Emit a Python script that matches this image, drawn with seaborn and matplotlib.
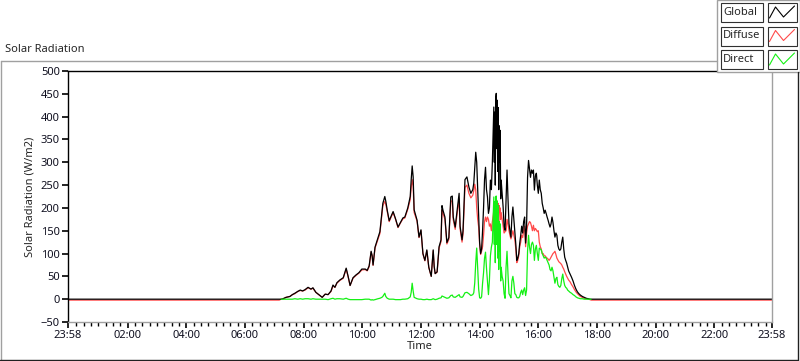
import matplotlib
matplotlib.use("Agg")
import matplotlib.pyplot as plt
from matplotlib.patches import Rectangle
import seaborn as sns
import pandas as pd

# Datos de radiacion solar (W/m2)
day_times = [
    "07:14", "07:18", "07:24", "07:32", "07:37", "07:42", "07:48", "07:53", "07:58", "08:03",
    "08:09", "08:15", "08:19", "08:25", "08:31", "08:38", "08:44", "08:50", "08:56", "09:00",
    "09:04", "09:08", "09:14", "09:21", "09:27", "09:31", "09:35", "09:41", "09:47", "09:53",
    "09:59", "10:06", "10:10", "10:14", "10:18", "10:20", "10:22", "10:26", "10:32", "10:36",
    "10:40", "10:42", "10:46", "10:48", "10:51", "10:55", "10:59", "11:03", "11:08", "11:13",
    "11:18", "11:23", "11:27", "11:33", "11:38", "11:40", "11:42", "11:44", "11:46", "11:52",
    "11:56", "12:00", "12:04", "12:08", "12:12", "12:16", "12:21", "12:25", "12:27", "12:29",
    "12:33", "12:37", "12:41", "12:43", "12:45", "12:49", "12:53", "12:57", "13:01", "13:04",
    "13:06", "13:10", "13:14", "13:18", "13:20", "13:24", "13:26", "13:30", "13:34", "13:38",
    "13:42", "13:46", "13:48", "13:50", "13:52", "13:54", "13:56", "13:58", "14:00", "14:02",
    "14:04", "14:06", "14:08", "14:10", "14:12", "14:14", "14:16", "14:18", "14:20", "14:22",
    "14:24", "14:26", "14:28", "14:29", "14:30", "14:31", "14:32", "14:33", "14:34", "14:35",
    "14:36", "14:37", "14:38", "14:39", "14:40", "14:41", "14:42", "14:43", "14:44", "14:46",
    "14:48", "14:50", "14:52", "14:54", "14:56", "14:58", "15:00", "15:02", "15:04", "15:06",
    "15:08", "15:10", "15:12", "15:14", "15:16", "15:18", "15:20", "15:22", "15:24", "15:26",
    "15:28", "15:30", "15:32", "15:34", "15:36", "15:38", "15:40", "15:42", "15:44", "15:46",
    "15:48", "15:50", "15:52", "15:54", "15:56", "15:58", "16:00", "16:02", "16:04", "16:06",
    "16:08", "16:10", "16:12", "16:14", "16:16", "16:18", "16:20", "16:22", "16:24", "16:26",
    "16:28", "16:30", "16:32", "16:34", "16:36", "16:38", "16:40", "16:42", "16:44", "16:46",
    "16:48", "16:50", "16:52", "16:54", "16:56", "16:58", "17:00", "17:02", "17:05", "17:08",
    "17:11", "17:14", "17:17", "17:20", "17:23", "17:26", "17:30", "17:34", "17:38", "17:42",
    "17:46", "17:48",
]
global_wm2 = [
    0, 1, 4, 6, 10, 13, 17, 20, 18, 21,
    26, 22, 25, 15, 10, 4, 11, 10, 18, 31,
    26, 36, 42, 47, 68, 50, 30, 47, 53, 58,
    66, 66, 63, 73, 105, 96, 75, 114, 134, 148,
    190, 210, 225, 215, 195, 172, 182, 192, 176, 158,
    168, 178, 180, 200, 225, 262, 292, 268, 196, 173,
    136, 152, 100, 85, 108, 70, 50, 108, 72, 56,
    60, 115, 130, 205, 195, 180, 124, 135, 224, 226,
    180, 158, 196, 232, 160, 130, 150, 262, 268, 246,
    232, 240, 254, 290, 322, 300, 239, 180, 123, 100,
    110, 150, 200, 262, 289, 240, 224, 188, 200, 261,
    240, 300, 380, 421, 300, 410, 250, 440, 451, 330,
    436, 280, 420, 240, 380, 300, 370, 220, 261, 230,
    202, 160, 151, 220, 283, 220, 166, 150, 136, 180,
    202, 175, 145, 120, 85, 90, 100, 123, 140, 160,
    145, 170, 180, 123, 160, 267, 304, 285, 267, 283,
    276, 283, 239, 270, 276, 250, 232, 261, 240, 232,
    210, 200, 188, 195, 188, 180, 173, 165, 158, 165,
    180, 168, 150, 136, 145, 140, 118, 110, 107, 110,
    125, 136, 110, 92, 85, 79, 70, 62, 55, 48,
    40, 30, 22, 16, 12, 9, 6, 4, 2, 1,
    0, 0,
]
diffuse_wm2 = [
    0, 1, 4, 6, 10, 12, 17, 19, 18, 20,
    25, 22, 24, 15, 10, 4, 11, 10, 17, 29,
    26, 35, 41, 46, 66, 49, 30, 46, 52, 57,
    64, 65, 62, 71, 103, 95, 74, 112, 131, 144,
    185, 205, 214, 208, 192, 170, 180, 190, 175, 157,
    167, 176, 178, 197, 218, 245, 262, 248, 190, 171,
    135, 150, 99, 84, 106, 69, 50, 106, 71, 56,
    59, 112, 126, 196, 188, 175, 121, 131, 214, 216,
    174, 153, 188, 220, 154, 125, 143, 245, 250, 232,
    222, 228, 238, 252, 240, 200, 175, 158, 120, 98,
    105, 115, 140, 170, 180, 170, 180, 175, 160, 165,
    150, 170, 185, 195, 175, 190, 165, 210, 225, 205,
    215, 180, 210, 170, 205, 190, 200, 175, 190, 175,
    160, 145, 148, 150, 175, 165, 150, 140, 132, 140,
    150, 140, 130, 110, 80, 85, 95, 115, 125, 140,
    135, 150, 160, 115, 145, 160, 165, 170, 168, 160,
    150, 162, 150, 155, 152, 148, 150, 125, 115, 110,
    100, 100, 95, 95, 92, 90, 88, 85, 88, 92,
    96, 100, 102, 105, 98, 90, 86, 82, 80, 78,
    75, 70, 66, 60, 55, 50, 46, 42, 38, 32,
    27, 21, 16, 12, 9, 6, 4, 2, 1, 0,
    -1, -2,
]
direct_wm2 = [
    0, 0, 0, 0, 0, 1, 0, 1, 0, 1,
    1, 0, 1, 0, 0, 0, 0, -1, 1, 2,
    0, 1, 1, 0, 2, 0, -1, -1, -1, -1,
    -1, 0, 0, 0, -2, -1, -2, -1, 1, 2,
    4, 6, 13, 6, 2, 0, 0, 0, -1, -1,
    -1, 0, 0, 1, 5, 15, 35, 18, 4, 1,
    0, 0, -1, -1, 0, -1, -1, 1, 0, -1,
    0, 2, 3, 7, 6, 4, 2, 3, 8, 9,
    5, 4, 7, 10, 5, 4, 6, 14, 15, 12,
    8, 10, 14, 36, 80, 112, 66, 22, 3, 2,
    5, 35, 58, 90, 103, 68, 40, 10, 42, 95,
    114, 125, 190, 224, 120, 214, 80, 225, 226, 120,
    215, 90, 205, 65, 170, 105, 165, 40, 70, 50,
    40, 12, 2, 70, 105, 55, 12, 8, 3, 40,
    50, 35, 12, 10, 4, 3, 3, 6, 15, 20,
    10, 20, 25, 8, 20, 105, 140, 114, 100, 120,
    125, 118, 85, 110, 118, 100, 85, 112, 110, 108,
    100, 95, 90, 92, 90, 85, 80, 75, 65, 62,
    70, 62, 48, 35, 45, 48, 32, 28, 26, 30,
    45, 55, 40, 30, 26, 24, 20, 18, 15, 13,
    10, 8, 5, 3, 2, 1, 1, 0, 0, 0,
    0, 0,
]

# Noche: global en cero, difusa apenas negativa
night_times = ["23:58", "07:10", "17:52", "23:58"]
night_global = [0, 0, 0, 0]
night_diffuse = [-2, -2, -2, -2]

tick_hours = [2, 4, 6, 8, 10, 12, 14, 16, 18, 20, 22]
tick_labels = ["02:00", "04:00", "06:00", "08:00", "10:00", "12:00",
               "14:00", "16:00", "18:00", "20:00", "22:00"]
serie_nombres = ["Diffuse", "Global", "Direct"]
serie_colores = {"Global": "black", "Diffuse": "#ff4a4a", "Direct": "#14f014"}


def a_horas(t):
    h, m = t.split(":")
    return int(h) + int(m) / 60


inicio = a_horas("23:58") - 24
fin = a_horas("23:58")

night_h = [inicio] + [a_horas(t) for t in night_times[1:-1]] + [fin]
day_h = [a_horas(t) for t in day_times]

filas = []
for h, v in zip(night_h[:2] + day_h + night_h[2:], night_global[:2] + global_wm2 + night_global[2:]):
    filas.append({"hora": h, "valor": v, "serie": "Global"})
for h, v in zip(night_h[:2] + day_h + night_h[2:], night_diffuse[:2] + diffuse_wm2 + night_diffuse[2:]):
    filas.append({"hora": h, "valor": v, "serie": "Diffuse"})
for h, v in zip(day_h, direct_wm2):
    filas.append({"hora": h, "valor": v, "serie": "Direct"})
df = pd.DataFrame(filas)

sns.set_style("white")
plt.rcParams["font.family"] = ["Noto Sans", "DejaVu Sans"]

fig = plt.figure(figsize=(8, 3.61), dpi=100)
ax = fig.add_axes([68 / 800, (361 - 322) / 361, (772 - 68) / 800, (322 - 71) / 361])

sns.lineplot(data=df, x="hora", y="valor", hue="serie", hue_order=serie_nombres,
             palette=serie_colores, estimator=None, sort=True, legend=False,
             linewidth=0.9, ax=ax)

ax.set_xlim(inicio, fin)
ax.set_ylim(-50, 500)
ax.set_yticks(range(-50, 501, 50))
ax.set_xticks([inicio] + tick_hours + [fin])
ax.set_xticklabels(["23:58"] + tick_labels + ["23:58"])
ax.set_xticks([i * 0.25 for i in range(1, 96) if i % 8 != 0], minor=True)
ax.tick_params(axis="both", which="major", direction="out", length=4, width=1.2,
               color="black", labelsize=8, pad=2, left=True, bottom=True,
               labelcolor="#101020")
ax.tick_params(axis="x", which="minor", direction="out", length=3, width=1,
               color="black", bottom=True)
ax.set_xlabel("Time", fontsize=8, labelpad=0)
ax.set_ylabel("Solar Radiation (W/m2)", fontsize=8, labelpad=4)

for lado in ["left", "top"]:
    ax.spines[lado].set_color("black")
    ax.spines[lado].set_linewidth(1)
for lado in ["right", "bottom"]:
    ax.spines[lado].set_color("#a0a0a0")
    ax.spines[lado].set_linewidth(1)

# Marco y leyenda estilo panel
capa = fig.add_axes([0, 0, 1, 1], zorder=10)
capa.set_xlim(0, 800)
capa.set_ylim(361, 0)
capa.axis("off")
capa.patch.set_alpha(0)

capa.plot([0.5, 717], [61, 61], color="#a0a0a0", lw=1)
capa.plot([0.5, 0.5], [61, 360], color="#a0a0a0", lw=1)
capa.plot([0, 798], [359.5, 359.5], color="#202020", lw=1)
capa.plot([798, 798], [72, 360], color="#202020", lw=1)
fig.text(5 / 800, 1 - 50 / 361, "Solar Radiation", fontsize=8, va="center", ha="left")

capa.add_patch(Rectangle((717, 0), 83, 72, facecolor="white", edgecolor="#a0a0a0", lw=1))
for i, nombre in enumerate(["Global", "Diffuse", "Direct"]):
    y0 = 3 + i * 23.5
    capa.add_patch(Rectangle((721, y0), 42, 19, facecolor="white", edgecolor="#303030", lw=0.8))
    capa.add_patch(Rectangle((768, y0), 29, 19, facecolor="white", edgecolor="#303030", lw=0.8))
    capa.text(723, y0 + 9.5, nombre, fontsize=8, va="center", ha="left")
    capa.plot([769.5, 775.5, 783.5, 794.5], [y0 + 15, y0 + 4, y0 + 14, y0 + 3],
              color=serie_colores[nombre], lw=0.8)

fig.savefig("out.png", dpi=100)
